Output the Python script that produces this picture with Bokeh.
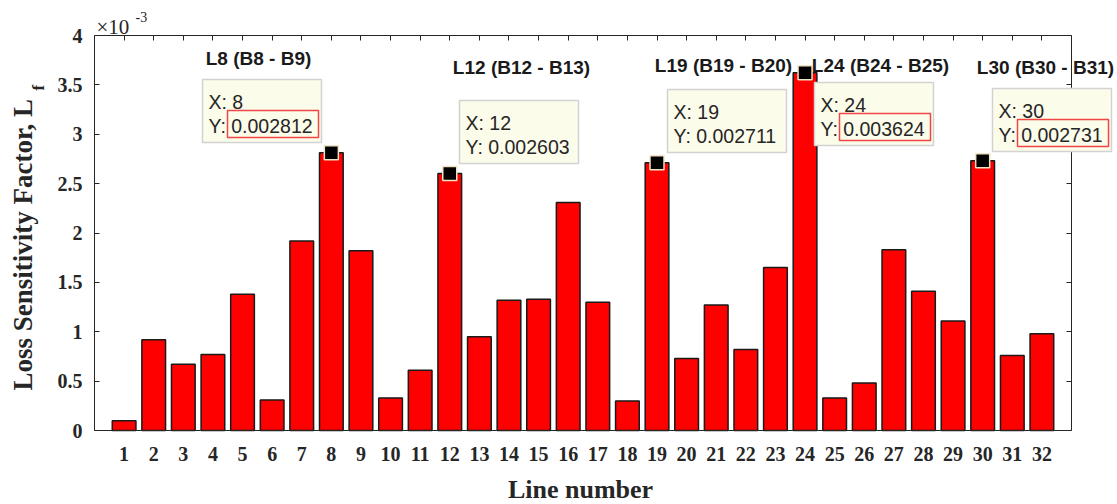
import numpy as np
from bokeh.plotting import figure
from bokeh.models import (Range1d, LinearAxis, FixedTicker, NumeralTickFormatter,
                          CustomJSTickFormatter, Label, BoxAnnotation, ColumnDataSource)
from bokeh.embed import file_html
from bokeh.resources import INLINE

# ---------------- data ----------------
line_numbers = list(range(1, 33))
loss_sensitivity = [
    0.000100, 0.000920, 0.000670, 0.000770, 0.001380, 0.000310, 0.001920, 0.002812,
    0.001820, 0.000330, 0.000610, 0.002603, 0.000950, 0.001320, 0.001330, 0.002310,
    0.001300, 0.000300, 0.002711, 0.000730, 0.001270, 0.000820, 0.001650, 0.003624,
    0.000330, 0.000480, 0.001830, 0.001410, 0.001110, 0.002731, 0.000760, 0.000980,
]
highlighted_lines = [8, 12, 19, 24, 30]
boxed_value_lines = [8, 24, 30]
y_ticks = [0, 0.5, 1, 1.5, 2, 2.5, 3, 3.5, 4]
SCALE = 1e-3

# ---------------- layout (pixels in the 1117x504 page) ----------------
W, H = 1117, 504
FL, FT, FW, FH = 94, 35, 977, 395          # axes box of the reference
X0, X1, Y0, Y1 = 0, 33, 0, 4               # axes limits
tip_box_px = {8: (202, 79), 12: (459, 100), 19: (667, 89), 24: (814, 82), 30: (992, 88)}
title_px = {8: (258, 58), 12: (521, 67), 19: (723, 65), 24: (880, 65), 30: (1045, 67)}


def dx(px):
    return X0 + (px - FL) / FW * (X1 - X0)


def dy(py):
    return Y0 + (FT + FH - py) / FH * (Y1 - Y0)


INK = "#262626"
SERIF = "Liberation Serif"
SANS = "Liberation Sans"

scaled = [v / SCALE for v in loss_sensitivity]
src = ColumnDataSource(dict(x=line_numbers, top=scaled))
hi_src = ColumnDataSource(dict(
    x=highlighted_lines,
    top=[loss_sensitivity[n - 1] / SCALE for n in highlighted_lines]))

# the frame spans the whole page; the axes sit at fixed data locations
p = figure(width=W, height=H,
           x_range=Range1d(dx(0), dx(W)), y_range=Range1d(dy(H), dy(0)),
           output_backend="svg", toolbar_location=None,
           min_border_left=0, min_border_right=0, min_border_top=0, min_border_bottom=0)
p.xgrid.visible = False
p.ygrid.visible = False
p.outline_line_color = None
p.background_fill_color = "white"
p.border_fill_color = "white"

# bottom axis
xa = p.xaxis[0]
xa.fixed_location = Y0
xa.bounds = (X0, X1)
xa.ticker = FixedTicker(ticks=line_numbers)
xa.formatter = NumeralTickFormatter(format="0")
xa.major_tick_in = 0
xa.major_tick_out = 0
xa.minor_tick_line_color = None
xa.axis_line_color = INK
xa.major_label_text_font = SERIF
xa.major_label_text_font_style = "bold"
xa.major_label_text_font_size = "20px"
xa.major_label_text_color = INK
xa.major_label_standoff = 16

# left axis
ya = p.yaxis[0]
ya.fixed_location = X0
ya.bounds = (Y0, Y1)
ya.ticker = FixedTicker(ticks=y_ticks)
ya.formatter = NumeralTickFormatter(format="0.[0]")
ya.major_tick_in = 5
ya.major_tick_out = 0
ya.major_tick_line_color = INK
ya.minor_tick_line_color = None
ya.axis_line_color = INK
ya.major_label_text_font = SERIF
ya.major_label_text_font_style = "bold"
ya.major_label_text_font_size = "20px"
ya.major_label_text_color = INK
ya.major_label_standoff = 12

# top and right axes: ticks only
empty = CustomJSTickFormatter(code="return ''")
top_axis = LinearAxis(fixed_location=Y1, bounds=(X0, X1),
                      ticker=FixedTicker(ticks=line_numbers), formatter=empty,
                      major_tick_in=5, major_tick_out=0, minor_tick_line_color=None,
                      axis_line_color=INK, major_tick_line_color=INK,
                      major_label_text_font_size="1px", major_label_standoff=0)
right_axis = LinearAxis(fixed_location=X1, bounds=(Y0, Y1),
                        ticker=FixedTicker(ticks=y_ticks), formatter=empty,
                        major_tick_in=5, major_tick_out=0, minor_tick_line_color=None,
                        axis_line_color=INK, major_tick_line_color=INK,
                        major_label_text_font_size="1px", major_label_standoff=0)
p.add_layout(top_axis, "above")
p.add_layout(right_axis, "right")

# bars
p.vbar(x="x", top="top", width=0.8, source=src, fill_color="#FF0000",
       line_color="#1A1A1A", line_width=1.5)

# datatip markers
p.scatter(x="x", y="top", source=hi_src, marker="square", size=14,
          fill_color="black", line_color="#EFE4C4", line_width=1.5)

# datatip boxes
for n in highlighted_lines:
    bx, by = tip_box_px[n]
    v = loss_sensitivity[n - 1]
    p.add_layout(BoxAnnotation(left=dx(bx), right=dx(bx + 119), top=dy(by), bottom=dy(by + 63),
                               fill_color="#FCFCEA", fill_alpha=1.0,
                               line_color="#D2D2D2", line_alpha=1.0, line_width=1.5))
    p.add_layout(Label(x=dx(bx + 6), y=dy(by + 22), text=f"X: {n}",
                       text_font=SANS, text_font_size="19.5px", text_color=INK,
                       text_align="left", text_baseline="middle"))
    p.add_layout(Label(x=dx(bx + 6), y=dy(by + 46.5), text=f"Y: {v:.6f}",
                       text_font=SANS, text_font_size="19.5px", text_color=INK,
                       text_align="left", text_baseline="middle"))
    if n in boxed_value_lines:
        p.add_layout(BoxAnnotation(left=dx(bx + 25), right=dx(bx + 116),
                                   top=dy(by + 31), bottom=dy(by + 58),
                                   fill_alpha=0.0, line_color="#F04646", line_alpha=1.0,
                                   line_width=1.5))
    tx, ty = title_px[n]
    p.add_layout(Label(x=dx(tx), y=dy(ty), text=f"L{n} (B{n} - B{n + 1})",
                       text_font=SANS, text_font_style="bold", text_font_size="19px",
                       text_color="#1A1A1A", text_align="center", text_baseline="middle"))

# axis titles
p.add_layout(Label(x=dx(580), y=dy(489), text="Line number", text_font=SERIF,
                   text_font_style="bold", text_font_size="26px", text_color=INK,
                   text_align="center", text_baseline="middle"))
p.add_layout(Label(x=dx(22), y=dy(390), text="Loss Sensitivity Factor, L", angle=np.pi / 2,
                   text_font=SERIF, text_font_style="bold", text_font_size="27px",
                   text_color=INK, text_align="left", text_baseline="middle"))
p.add_layout(Label(x=dx(38), y=dy(90), text="f", angle=np.pi / 2,
                   text_font=SERIF, text_font_style="bold", text_font_size="17px",
                   text_color=INK, text_align="left", text_baseline="middle"))

# exponent
p.add_layout(Label(x=dx(96), y=dy(26), text="\u00d710", text_font=SERIF,
                   text_font_size="21px", text_color=INK,
                   text_align="left", text_baseline="middle"))
p.add_layout(Label(x=dx(135), y=dy(16), text="-3", text_font=SERIF,
                   text_font_size="14px", text_color=INK,
                   text_align="left", text_baseline="middle"))

open("out.html", "w").write(file_html(p, INLINE))
